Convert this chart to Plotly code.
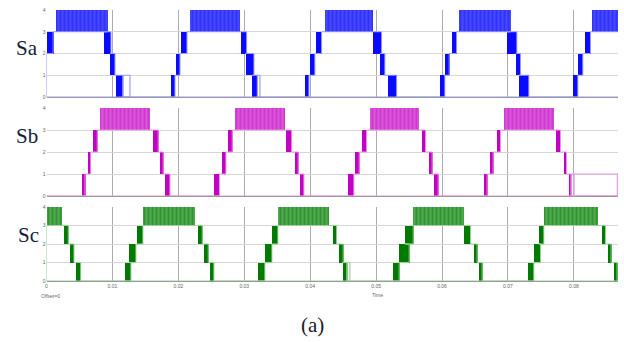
import plotly.graph_objects as go

# ---------------- data ----------------
t_end = 0.0867
x_ticks = [0, 0.01, 0.02, 0.03, 0.04, 0.05, 0.06, 0.07, 0.08]
x_tick_labels = ["0", "0.01", "0.02", "0.03", "0.04", "0.05", "0.06", "0.07", "0.08"]
levels = [0, 1, 2, 3, 4]
level_labels = ["0", "1", "2", "3", "4"]
phase_names = ["Sa", "Sb", "Sc"]
initial_levels = [0, 0, 0]

# dense switching bands: start time, end time, lower level (toggles between low and low+1)
sa_start = [0.00000, 0.00129, 0.00872, 0.00963, 0.01054,
            0.01888, 0.01964, 0.02040, 0.02176, 0.02945, 0.03021, 0.03112,
            0.03920, 0.03996, 0.04087, 0.04224, 0.04947, 0.05058, 0.05179,
            0.05968, 0.06033, 0.06145, 0.06245, 0.06984, 0.07120, 0.07166,
            0.07980, 0.08060, 0.08166, 0.08268]
sa_end = [0.00100, 0.00918, 0.00978, 0.01039, 0.01160,
          0.01949, 0.02025, 0.02131, 0.02934, 0.03036, 0.03147, 0.03200,
          0.03981, 0.04071, 0.04173, 0.04952, 0.05083, 0.05133, 0.05311,
          0.06043, 0.06109, 0.06221, 0.07040, 0.07135, 0.07191, 0.07317,
          0.08060, 0.08136, 0.08253, 0.08667]
sa_low = [2, 3, 2, 1, 0,
          0, 1, 2, 3, 2, 1, 0,
          0, 1, 2, 3, 2, 1, 0,
          0, 1, 2, 3, 2, 1, 0,
          0, 1, 2, 3]
# sparse (lightly switching) bands
sa_sparse_start = [0.01160, 0.03200]
sa_sparse_end = [0.01266, 0.03238]
sa_sparse_low = [0, 0]

sb_start = [0.00538, 0.00619, 0.00701, 0.00811, 0.01611, 0.01711, 0.01786,
            0.02533, 0.02657, 0.02742, 0.02859, 0.03632, 0.03769, 0.03844,
            0.04568, 0.04679, 0.04780, 0.04895, 0.05684, 0.05801, 0.05877,
            0.06635, 0.06726, 0.06827, 0.06938, 0.07722, 0.07837, 0.07913]
sb_end = [0.00584, 0.00670, 0.00770, 0.01570, 0.01695, 0.01771, 0.01873,
          0.02624, 0.02722, 0.02818, 0.03617, 0.03719, 0.03819, 0.03905,
          0.04663, 0.04744, 0.04856, 0.05649, 0.05751, 0.05851, 0.05942,
          0.06685, 0.06776, 0.06888, 0.07686, 0.07798, 0.07889, 0.07960]
sb_low = [0, 1, 2, 3, 2, 1, 0,
          0, 1, 2, 3, 2, 1, 0,
          0, 1, 2, 3, 2, 1, 0,
          0, 1, 2, 3, 2, 1, 0]
sb_sparse_start = [0.07960, 0.08000]
sb_sparse_end = [0.08000, 0.08660]
sb_sparse_low = [0, 0]

sc_start = [0.00000, 0.00255, 0.00346, 0.00443,
            0.01190, 0.01251, 0.01372, 0.01463, 0.02293, 0.02389, 0.02480,
            0.03207, 0.03313, 0.03420, 0.03511, 0.04340, 0.04425, 0.04492,
            0.05250, 0.05335, 0.05437, 0.05558, 0.06331, 0.06473, 0.06548,
            0.07291, 0.07393, 0.07469, 0.07545, 0.08414, 0.08505, 0.08596]
sc_end = [0.00231, 0.00331, 0.00417, 0.00519,
          0.01281, 0.01357, 0.01463, 0.02252, 0.02363, 0.02454, 0.02540,
          0.03313, 0.03420, 0.03511, 0.04274, 0.04401, 0.04501, 0.04560,
          0.05350, 0.05502, 0.05563, 0.06321, 0.06433, 0.06533, 0.06609,
          0.07393, 0.07495, 0.07545, 0.08353, 0.08480, 0.08565, 0.08656]
sc_low = [3, 2, 1, 0,
          0, 1, 2, 3, 2, 1, 0,
          0, 1, 2, 3, 2, 1, 0,
          0, 1, 2, 3, 2, 1, 0,
          0, 1, 2, 3, 2, 1, 0]
sc_sparse_start = [0.04560]
sc_sparse_end = [0.04603]
sc_sparse_low = [0]

# ---------------- style ----------------
W, H = 624, 342
x_dom = [46.5 / W, 618 / W]
panel_px = [(10, 97), (108, 196), (207, 281)]  # top, bottom pixel rows
colors = ["#0a0aff", "#c400c4", "#007a00"]
light_colors = ["#9a9aff", "#e59ce5", "#9bd49b"]
top_bg = ["#5a5aff", "#dd70dd", "#60b060"]
top_solidity = [0.72, 0.7, 0.62]
label_px = [(27, 48), (27, 136), (28, 235)]

fig = go.Figure()


def step_path(start, end, low, init):
    xs, ys = [0.0], [init]
    n = len(start)
    for k in range(n):
        lo = low[k]
        if lo == 3:
            entry, exitl = 3, 3
        else:
            if k + 1 < n:
                rising = low[k + 1] > lo
            else:
                rising = k > 0 and low[k - 1] < lo
            entry, exitl = (lo, lo + 1) if rising else (lo + 1, lo)
        xs += [start[k], end[k]]
        ys += [entry, exitl]
    xs.append(t_end)
    ys.append(ys[-1])
    return xs, ys


def outline_path(start, end, low):
    xs, ys = [], []
    for a, b, lo in zip(start, end, low):
        xs += [a, a, b, b, a, None]
        ys += [lo, lo + 1, lo + 1, lo, lo, None]
    return xs, ys


data = [(sa_start, sa_end, sa_low, sa_sparse_start, sa_sparse_end, sa_sparse_low),
        (sb_start, sb_end, sb_low, sb_sparse_start, sb_sparse_end, sb_sparse_low),
        (sc_start, sc_end, sc_low, sc_sparse_start, sc_sparse_end, sc_sparse_low)]

for i, (st, en, lo, sst, sen, slo) in enumerate(data):
    xa = "x" if i == 0 else f"x{i+1}"
    ya = "y" if i == 0 else f"y{i+1}"
    # baseline at zero
    fig.add_trace(go.Scatter(x=[0, t_end], y=[0, 0], mode="lines",
                             line=dict(color=light_colors[i], width=1.2),
                             xaxis=xa, yaxis=ya, showlegend=False, hoverinfo="skip",
                             cliponaxis=False))
    xs, ys = step_path(st, en, lo, initial_levels[i])
    fig.add_trace(go.Scatter(x=xs, y=ys, mode="lines", line_shape="hv",
                             line=dict(color=light_colors[i], width=1),
                             xaxis=xa, yaxis=ya, showlegend=False, hoverinfo="skip"))
    # sparse bands: light outline
    ox, oy = outline_path(sst, sen, slo)
    fig.add_trace(go.Scatter(x=ox, y=oy, mode="lines",
                             line=dict(color=light_colors[i], width=1.2),
                             xaxis=xa, yaxis=ya, showlegend=False, hoverinfo="skip",
                             cliponaxis=False))
    for is_top in (False, True):
        idx = [k for k in range(len(st)) if (lo[k] == 3) == is_top]
        cs = [(st[k] + en[k]) / 2 for k in idx]
        ws = [en[k] - st[k] for k in idx]
        bs = [lo[k] for k in idx]
        if is_top:
            marker = dict(color=top_bg[i], line=dict(width=0),
                          pattern=dict(shape="|", fgcolor=colors[i], bgcolor=top_bg[i],
                                       size=4, solidity=top_solidity[i]))
        else:
            marker = dict(color=colors[i], line=dict(width=0))
        fig.add_trace(go.Bar(x=cs, y=[1] * len(idx), base=bs, width=ws, marker=marker,
                             xaxis=xa, yaxis=ya, showlegend=False, hoverinfo="skip"))

    top_px, bot_px = panel_px[i]
    xkey = "xaxis" if i == 0 else f"xaxis{i+1}"
    ykey = "yaxis" if i == 0 else f"yaxis{i+1}"
    fig.layout[xkey] = dict(domain=x_dom, anchor=ya, range=[0, t_end],
                            tickvals=x_ticks, ticktext=x_tick_labels,
                            showticklabels=(i == 2), ticks="", automargin=False,
                            tickfont=dict(size=5, color="#666", family="Liberation Sans"),
                            showgrid=True, gridcolor="#ababab", gridwidth=1,
                            showline=True, linecolor="#9a9a9a", linewidth=1,
                            zeroline=False, fixedrange=True)
    fig.layout[ykey] = dict(domain=[(H - bot_px) / H, (H - top_px) / H], anchor=xa,
                            range=[0, 4], tickvals=levels, ticktext=level_labels,
                            automargin=False,
                            tickfont=dict(size=5, color="#666", family="Liberation Sans"),
                            showgrid=True, gridcolor="#d6d6d6", gridwidth=1,
                            zeroline=False, showline=False, ticks="", fixedrange=True)
    lx, ly = label_px[i]
    fig.add_annotation(text=phase_names[i], xref="paper", yref="paper",
                       x=lx / W, y=(H - ly) / H, xanchor="center", yanchor="middle",
                       showarrow=False,
                       font=dict(family="Liberation Serif", size=21, color="#14213a"))

fig.add_annotation(text="Offset=0", xref="paper", yref="paper", x=39 / W, y=(H - 296) / H,
                   xanchor="left", yanchor="middle", showarrow=False,
                   font=dict(family="Liberation Sans", size=5, color="#666"))
fig.add_annotation(text="Time", xref="paper", yref="paper", x=377 / W, y=(H - 295) / H,
                   xanchor="center", yanchor="middle", showarrow=False,
                   font=dict(family="Liberation Sans", size=5, color="#666"))
fig.add_annotation(text="(a)", xref="paper", yref="paper", x=312 / W, y=(H - 325) / H,
                   xanchor="center", yanchor="middle", showarrow=False,
                   font=dict(family="Liberation Serif", size=21, color="#1a1a2a"))

fig.update_layout(width=W, height=H, margin=dict(l=0, r=0, t=0, b=0, pad=0),
                  autosize=False,
                  paper_bgcolor="white", plot_bgcolor="white",
                  barmode="overlay", bargap=0, showlegend=False)

fig.write_html("out.html", config={"displayModeBar": False},
               post_script="document.body.style.margin='0px';document.body.style.overflow='hidden';")
